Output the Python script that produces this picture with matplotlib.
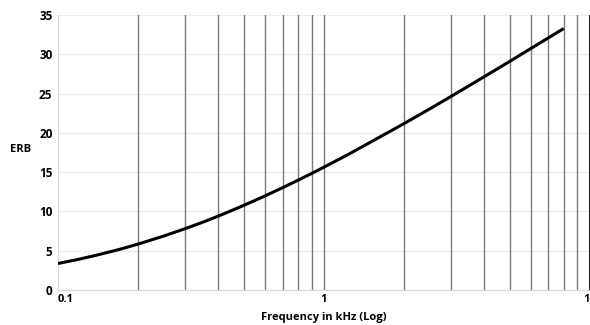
import matplotlib
matplotlib.use("Agg")
import matplotlib.pyplot as plt
from matplotlib.ticker import FixedLocator, NullFormatter

plt.rcParams['font.family'] = ['Open Sans', 'DejaVu Sans']

# ERB-rate values sampled along the frequency axis (kHz)
freq_khz = [0.1, 0.12, 0.14, 0.17, 0.2, 0.25, 0.3, 0.35, 0.4, 0.45, 0.5, 0.6, 0.7,
            0.8, 0.9, 1.0, 1.25, 1.5, 2.0, 2.5, 3.0, 4.0, 5.0, 6.0, 7.0, 8.0]
erb = [3.37, 3.92, 4.44, 5.16, 5.84, 6.87, 7.79, 8.62, 9.39, 10.11, 10.77, 11.96, 13.02,
       13.97, 14.83, 15.62, 17.34, 18.82, 21.16, 23.03, 24.60, 27.11, 29.08, 30.71,
       32.09, 33.28]

x_major = [0.1, 1, 10]
x_major_labels = ["0.1", "1", "10"]
x_minor = [0.2, 0.3, 0.4, 0.5, 0.6, 0.7, 0.8, 0.9, 2, 3, 4, 5, 6, 7, 8, 9]
y_ticks = [0, 5, 10, 15, 20, 25, 30, 35]

fig = plt.figure(figsize=(5.9, 3.25), dpi=100)
ax = fig.add_axes([58 / 590, 1 - 290 / 325, (589.5 - 58) / 590, 275 / 325])

ax.set_xscale("log")
ax.set_xlim(0.1, 10)
ax.set_ylim(0, 35)

# horizontal grid
for y in y_ticks[1:]:
    ax.axhline(y, color="#ececec", lw=0.9, zorder=0)
# vertical grid
for x in x_minor + [1]:
    ax.axvline(x, color="#7a7a7a", lw=1.0, zorder=1)
ax.axvline(10, color="#111111", lw=1.4, zorder=1)

ax.plot(freq_khz, erb, color="black", lw=2.2, zorder=3, solid_capstyle="butt")

for s in ["top", "right"]:
    ax.spines[s].set_visible(False)
for s in ["left", "bottom"]:
    ax.spines[s].set_color("#d9d9d9")
    ax.spines[s].set_linewidth(0.9)

ax.xaxis.set_major_locator(FixedLocator(x_major))
ax.xaxis.set_minor_locator(FixedLocator(x_minor))
ax.xaxis.set_minor_formatter(NullFormatter())
ax.set_xticklabels(x_major_labels, fontsize=8, fontweight="bold")
ax.get_xticklabels()[0].set_horizontalalignment("left")
ax.tick_params(axis="x", which="both", length=0, pad=3)

ax.set_yticks(y_ticks)
ax.set_yticklabels([str(v) for v in y_ticks], fontsize=8.5, fontweight="bold")
ax.tick_params(axis="y", length=0, pad=4)

ax.set_xlabel("Frequency in kHz (Log)", fontsize=8, fontweight="bold", labelpad=5)
fig.text(10 / 590, 1 - 150 / 325, "ERB", fontsize=8, fontweight="bold",
         ha="left", va="center")

fig.savefig("out.png", dpi=100)
